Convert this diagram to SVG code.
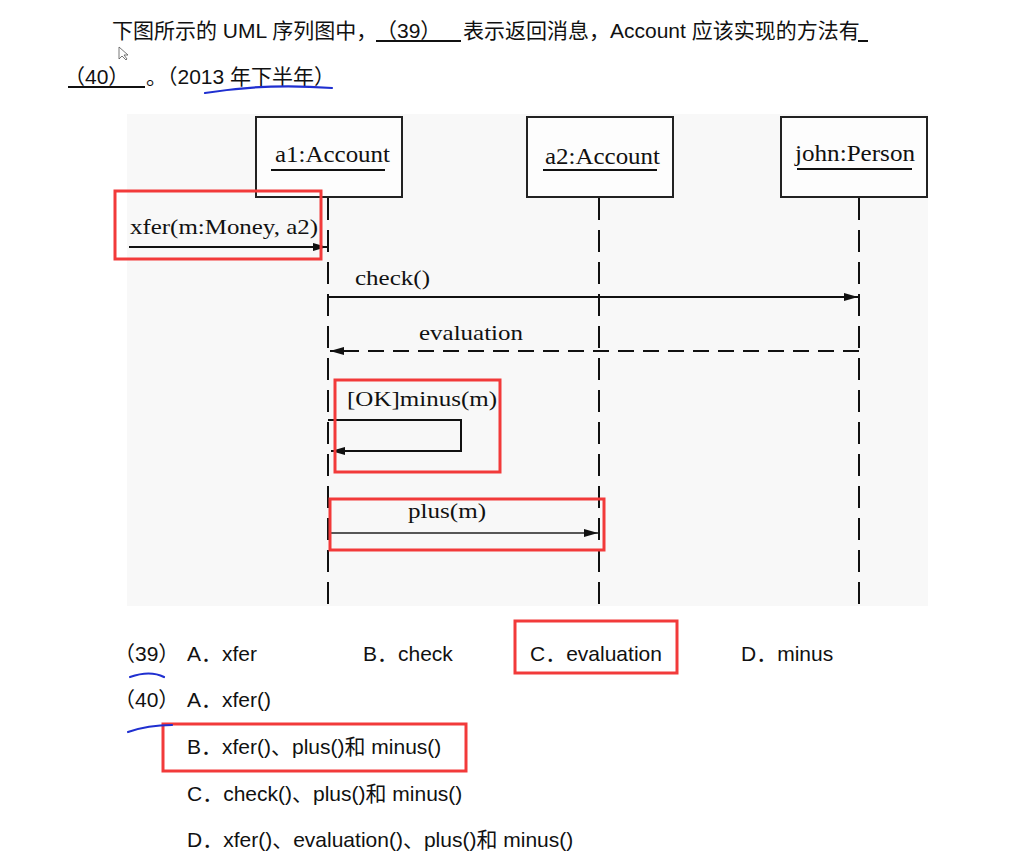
<svg xmlns="http://www.w3.org/2000/svg" width="1017" height="863" viewBox="0 0 1017 863">
<style>
.q{font-family:"Liberation Sans","Noto Sans CJK SC",sans-serif;font-size:21px;fill:#111}
.s{font-family:"Liberation Serif","Noto Serif",serif;fill:#111}
.lbl{font-size:23px}
.msg{font-size:22px}
.box{fill:#fdfdfd;stroke:#222;stroke-width:2}
.life{stroke:#111;stroke-width:2;stroke-dasharray:22 10;fill:none}
.line{stroke:#111;stroke-width:2;fill:none}
.red{fill:none;stroke:#f23a3a;stroke-width:3}
.blue{fill:none;stroke:#1f2fd0;stroke-width:2.2;stroke-linecap:round}
.ul{stroke:#111;stroke-width:2}
</style>
<defs>
<marker id="ah" markerWidth="14" markerHeight="8" refX="14" refY="4" orient="auto" markerUnits="userSpaceOnUse">
<path d="M0,0 L14,4 L0,8 Z" fill="#111"/>
</marker>
</defs>
<rect width="1017" height="863" fill="#ffffff"/>

<g id="question">
<text class="q" x="112" y="38">下图所示的 UML 序列图中，</text>
<text class="q" x="376" y="38">（39）</text>
<line class="ul" x1="376" y1="41" x2="461" y2="41"/>
<text class="q" x="463" y="38">表示返回消息，Account 应该实现的方法有</text>
<line class="ul" x1="858" y1="41" x2="868" y2="41"/>
<text class="q" x="64" y="84">（40）</text>
<line class="ul" x1="68" y1="87" x2="145" y2="87"/>
<text class="q" x="146" y="84">。（2013 年下半年）</text>
<path class="blue" d="M205 93 Q 265 83 332 88"/>
<path d="M119 47 L119 59 L122 56 L126 60 L127 59 L124 55 L128 55 Z" fill="#fff" stroke="#555" stroke-width="0.8"/>
</g>

<rect x="127" y="114" width="801" height="492" fill="#f8f8f8"/>

<g id="connectors">
<line class="life" x1="328" y1="198" x2="328" y2="604"/>
<line class="life" x1="599" y1="198" x2="599" y2="604"/>
<line class="life" x1="859" y1="198" x2="859" y2="604"/>
<line class="line" x1="129" y1="247" x2="327" y2="247" marker-end="url(#ah)"/>
<line class="line" x1="328" y1="297" x2="858" y2="297" marker-end="url(#ah)"/>
<line class="line" x1="859" y1="351" x2="330" y2="351" stroke-dasharray="16 9" marker-end="url(#ah)"/>
<polyline class="line" points="328,420 461,420 461,451 331,451" marker-end="url(#ah)"/>
<line x1="330" y1="533" x2="598" y2="533" stroke="#222" stroke-width="1.3" marker-end="url(#ah)"/>
<text class="s msg" x="130" y="234" textLength="188" lengthAdjust="spacingAndGlyphs">xfer(m:Money, a2)</text>
<text class="s msg" x="355" y="285" textLength="75" lengthAdjust="spacingAndGlyphs">check()</text>
<text class="s msg" x="419" y="340" textLength="104" lengthAdjust="spacingAndGlyphs">evaluation</text>
<text class="s msg" x="347" y="406" textLength="150" lengthAdjust="spacingAndGlyphs">[OK]minus(m)</text>
<text class="s msg" x="408" y="518" textLength="78" lengthAdjust="spacingAndGlyphs">plus(m)</text>
</g>

<g id="a1">
<rect class="box" x="256" y="117" width="146" height="80"/>
<text class="s lbl" x="275" y="162" textLength="115" lengthAdjust="spacingAndGlyphs">a1:Account</text>
<line class="ul" x1="271" y1="170" x2="385" y2="170"/>
</g>
<g id="a2">
<rect class="box" x="527" y="117" width="146" height="80"/>
<text class="s lbl" x="545" y="164" textLength="115" lengthAdjust="spacingAndGlyphs">a2:Account</text>
<line class="ul" x1="543" y1="170" x2="657" y2="170"/>
</g>
<g id="john">
<rect class="box" x="781" y="117" width="146" height="80"/>
<text class="s lbl" x="795" y="161" textLength="120" lengthAdjust="spacingAndGlyphs">john:Person</text>
<line class="ul" x1="797" y1="169" x2="912" y2="169"/>
</g>

<g id="highlights">
<rect class="red" x="115" y="191" width="206" height="68"/>
<rect class="red" x="335" y="380" width="165" height="92"/>
<rect class="red" x="330" y="499" width="274" height="51"/>
<rect class="red" x="515" y="621" width="162" height="52"/>
<rect class="red" x="163" y="724" width="303" height="47"/>
</g>

<g id="options">
<text class="q" x="114" y="661">（39）</text>
<text class="q" x="187" y="661">A．xfer</text>
<text class="q" x="363" y="661">B．check</text>
<text class="q" x="530" y="661">C．evaluation</text>
<text class="q" x="741" y="661">D．minus</text>
<path class="blue" d="M130 677 Q 150 670 164 677"/>
<text class="q" x="114" y="707">（40）</text>
<text class="q" x="187" y="707">A．xfer()</text>
<path class="blue" d="M128 732 Q 148 725 172 725"/>
<text class="q" x="187" y="754">B．xfer()、plus()和 minus()</text>
<text class="q" x="187" y="801">C．check()、plus()和 minus()</text>
<text class="q" x="187" y="847">D．xfer()、evaluation()、plus()和 minus()</text>
</g>
</svg>
